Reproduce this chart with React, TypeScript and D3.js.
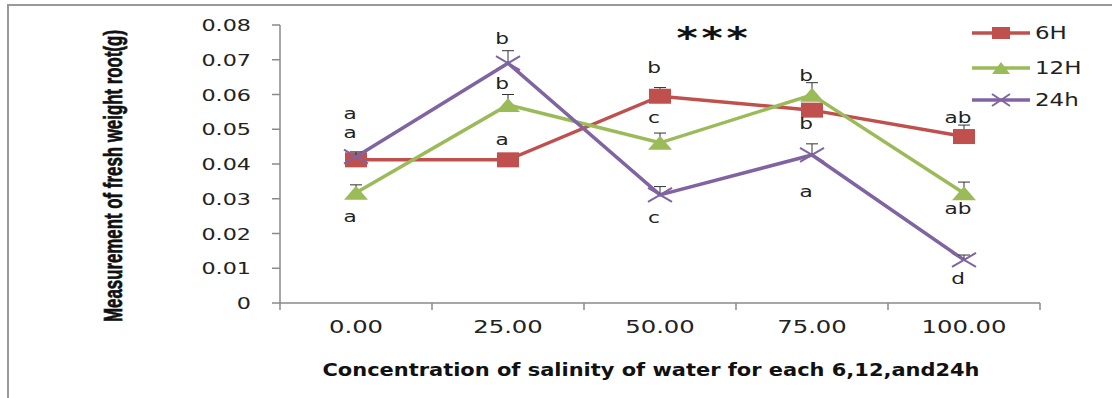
import React from "react";
import * as d3 from "d3";

// chart values
const categories = ["0.00", "25.00", "50.00", "75.00", "100.00"];
const seriesNames = ["6H", "12H", "24h"];
const values6H = [0.0412, 0.0412, 0.0595, 0.0555, 0.0479];
const values12H = [0.0317, 0.057, 0.0461, 0.0599, 0.0316];
const values24h = [0.0421, 0.069, 0.0311, 0.0426, 0.0124];
const errors6H = [0.001, 0.0005, 0.0025, 0.001, 0.0033];
const errors12H = [0.0023, 0.003, 0.0028, 0.0035, 0.0032];
const errors24h = [0.0014, 0.0036, 0.0024, 0.0032, 0.0014];
const yTicks = [0, 0.01, 0.02, 0.03, 0.04, 0.05, 0.06, 0.07, 0.08];
const yTickLabels = ["0", "0.01", "0.02", "0.03", "0.04", "0.05", "0.06", "0.07", "0.08"];

// significance letters: category, text, level (in y units)
const letterCategory = ["0.00", "0.00", "0.00", "25.00", "25.00", "25.00", "50.00", "50.00", "50.00", "75.00", "75.00", "75.00", "100.00", "100.00", "100.00"];
const letterText = ["a", "a", "a", "b", "b", "a", "b", "c", "c", "b", "b", "a", "ab", "ab", "d"];
const letterLevel = [0.0529, 0.0475, 0.0233, 0.0745, 0.0616, 0.0455, 0.0662, 0.0518, 0.023, 0.0639, 0.0501, 0.0305, 0.0518, 0.0256, 0.0055];

const yTitle = "Measurement of fresh weight root(g)";
const xTitle = "Concentration of salinity of water for each 6,12,and24h";

const colors = ["#C0504D", "#9BBB59", "#8064A2"];
const FONT = "'DejaVu Sans', Verdana, sans-serif";
const SX = 1.35; // picture is stretched sideways

const margin = { left: 280, right: 72, top: 25, bottom: 95 };
const W = 1112;
const H = 398;

function Marker({ kind, color, w, h }: { kind: number; color: string; w: number; h: number }) {
	if (kind === 0) return <rect x={-w / 2} y={-h / 2} width={w} height={h} fill={color} />;
	if (kind === 1) return <path d={`M0,${-h / 2}L${w / 2},${h / 2}L${-w / 2},${h / 2}Z`} fill={color} />;
	return (
		<path
			d={`M${-w / 2},${-h / 2}L${w / 2},${h / 2}M${-w / 2},${h / 2}L${w / 2},${-h / 2}`}
			stroke={color}
			strokeWidth={2}
			fill="none"
		/>
	);
}

const App = () => {
	const x = d3.scaleBand().domain(categories).range([margin.left, W - margin.right]);
	const y = d3.scaleLinear().domain([0, 0.08]).range([H - margin.bottom, margin.top]);
	const cx = (c: string) => (x(c) as number) + x.bandwidth() / 2;

	const series = [values6H, values12H, values24h];
	const errors = [errors6H, errors12H, errors24h];
	const line = d3
		.line<number>()
		.x((_, i) => cx(categories[i]))
		.y((d) => y(d));

	const axisColor = "#8a8a8a";
	const y0 = y(0);
	const bounds = [...categories.map((c) => x(c) as number), W - margin.right];

	return (
		<svg width={W} height={H} style={{ position: "fixed", left: 0, top: 0, background: "#fff" }}>
			<rect x={8} y={5} width={W + 10} height={H + 10} fill="none" stroke="#999" strokeWidth={2} />

			{/* y axis */}
			<line x1={margin.left} x2={margin.left} y1={y(0.08)} y2={y0} stroke={axisColor} strokeWidth={1.5} />
			{yTicks.map((t, i) => (
				<g key={t}>
					<line x1={margin.left - 8} x2={margin.left} y1={y(t)} y2={y(t)} stroke={axisColor} strokeWidth={1.5} />
					<text
						transform={`translate(251,${y(t) + 6}) scale(${SX},1)`}
						textAnchor="end"
						fontFamily={FONT}
						fontSize={16.5}
						fill="#222"
					>
						{yTickLabels[i]}
					</text>
				</g>
			))}

			{/* x axis */}
			<line x1={margin.left} x2={W - margin.right} y1={y0} y2={y0} stroke={axisColor} strokeWidth={1.5} />
			{bounds.map((b, i) => (
				<line key={i} x1={b} x2={b} y1={y0} y2={y0 + 7} stroke={axisColor} strokeWidth={1.5} />
			))}
			{categories.map((c) => (
				<text
					key={c}
					transform={`translate(${cx(c)},333) scale(${SX},1)`}
					textAnchor="middle"
					fontFamily={FONT}
					fontSize={18}
					fill="#222"
				>
					{c}
				</text>
			))}

			<text
				x={651}
				y={376}
				textAnchor="middle"
				fontFamily={FONT}
				fontWeight="bold"
				fontSize={17}
				textLength={657}
				lengthAdjust="spacingAndGlyphs"
				fill="#111"
			>
				{xTitle}
			</text>

			<text
				transform={`translate(122,176) scale(${SX},1) rotate(-90)`}
				textAnchor="middle"
				fontFamily="'Liberation Sans Narrow', 'Liberation Sans', Arial, sans-serif"
				fontWeight="bold"
				fontSize={19}
				textLength={292}
				lengthAdjust="spacingAndGlyphs"
				fill="#111"
				stroke="#111"
				strokeWidth={0.5}
			>
				{yTitle}
			</text>

			{/* series */}
			{series.map((vals, s) => (
				<g key={s}>
					<path d={line(vals) as string} fill="none" stroke={colors[s]} strokeWidth={3.5} />
					{vals.map((v, i) => {
						const px = cx(categories[i]);
						const top = y(v + errors[s][i]);
						return (
							<g key={i}>
								<line x1={px} x2={px} y1={y(v)} y2={top} stroke="#333" strokeWidth={1} />
								<line x1={px - 6} x2={px + 6} y1={top} y2={top} stroke="#333" strokeWidth={1} />
							</g>
						);
					})}
					{vals.map((v, i) => (
						<g key={"m" + i} transform={`translate(${cx(categories[i])},${y(v)})`}>
							<Marker kind={s} color={colors[s]} w={s === 0 ? 22 : 24} h={s === 0 ? 15 : 14} />
						</g>
					))}
				</g>
			))}

			{/* significance letters */}
			{letterText.map((t, i) => (
				<text
					key={i}
					transform={`translate(${cx(letterCategory[i]) - 6},${y(letterLevel[i])}) scale(${SX},1)`}
					textAnchor="middle"
					fontFamily={FONT}
					fontSize={16}
					fill="#222"
				>
					{t}
				</text>
			))}

			{/* *** */}
			{[687, 712, 737].map((ax) => (
				<text
					key={ax}
					transform={`translate(${ax},48) scale(${SX},1)`}
					textAnchor="middle"
					fontFamily={FONT}
					fontWeight="bold"
					fontSize={30}
					fill="#111"
				>
					*
				</text>
			))}

			{/* legend */}
			{seriesNames.map((n, s) => {
				const ly = [33, 68, 100][s];
				return (
					<g key={n}>
						<line x1={972} x2={1030} y1={ly} y2={ly} stroke={colors[s]} strokeWidth={3.5} />
						<g transform={`translate(1001,${ly})`}>
							<Marker kind={s} color={colors[s]} w={18} h={12} />
						</g>
						<text
							transform={`translate(1035,${ly + 6}) scale(${SX},1)`}
							fontFamily={FONT}
							fontSize={17}
							fill="#222"
						>
							{n}
						</text>
					</g>
				);
			})}
		</svg>
	);
};

export default App;
